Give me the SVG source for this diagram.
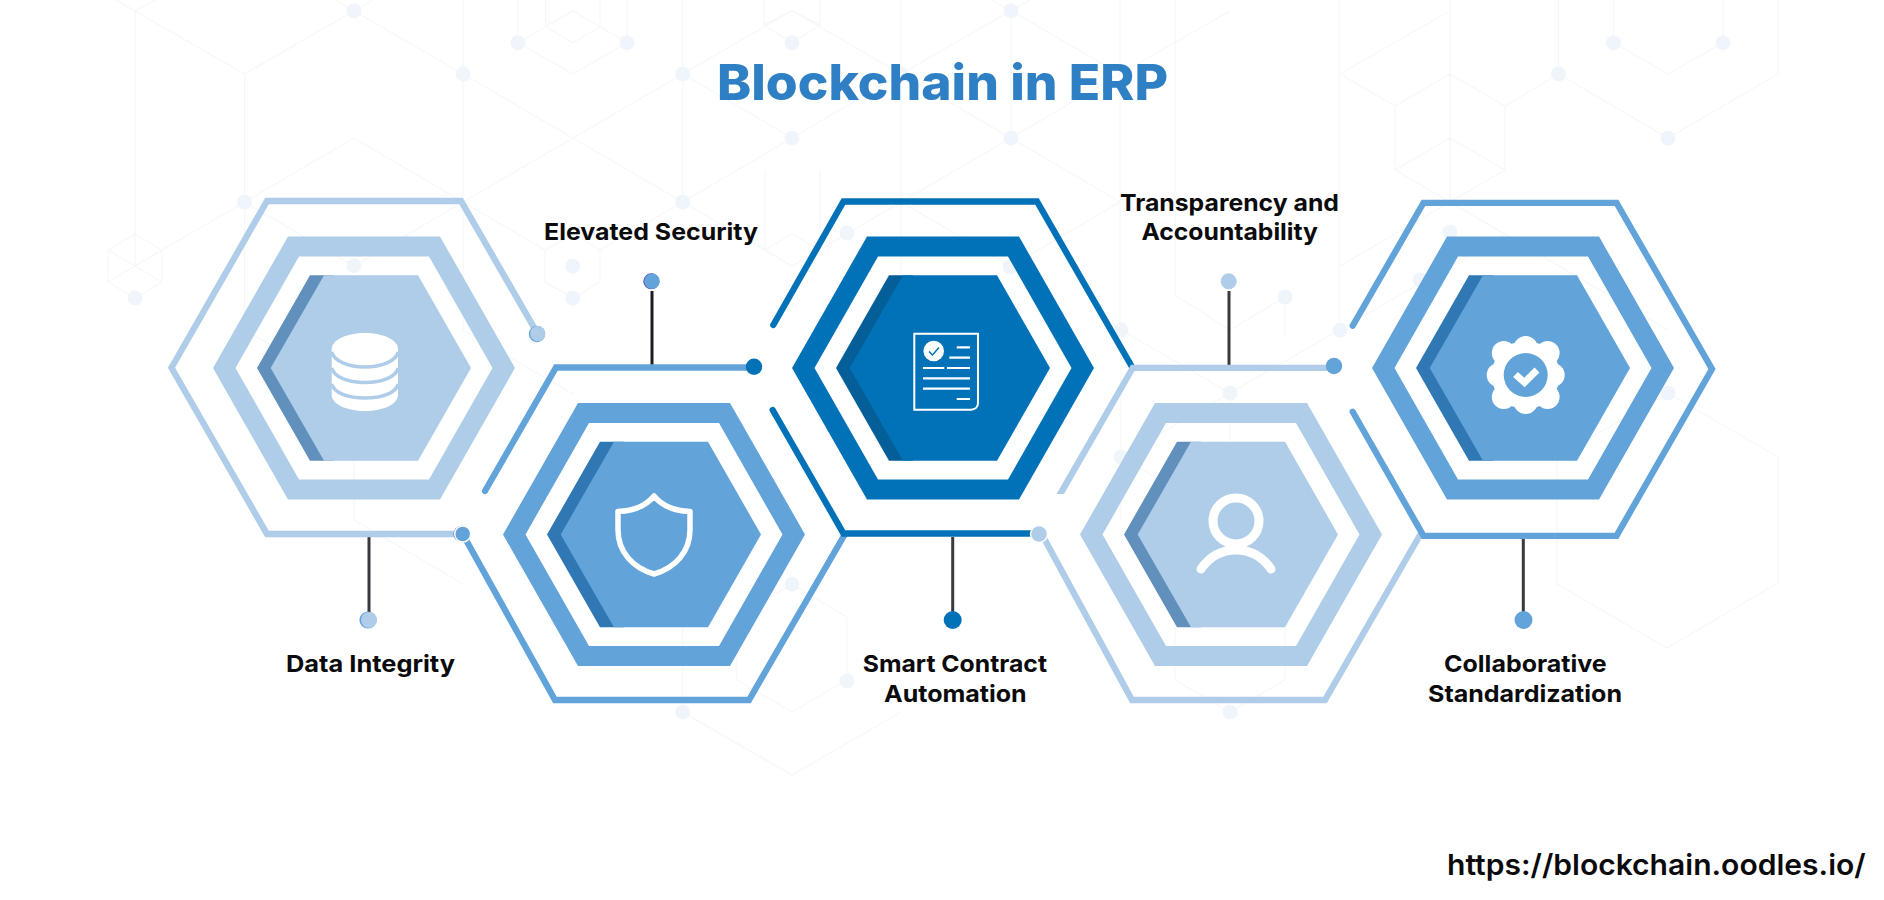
<svg xmlns="http://www.w3.org/2000/svg" width="1884" height="900" viewBox="0 0 1884 900">
  <style>
    .net { fill: none; stroke: #f5f7fb; stroke-width: 1.3; }
    .net-dot { fill: #f0f4fb; }
    .trace { fill: none; stroke-width: 6.3; stroke-linejoin: miter; stroke-linecap: round; stroke: var(--tone); }
    .stem { fill: none; stroke: #3a3a3e; stroke-width: 3; }
    .ring { fill-rule: evenodd; }
    .label { font-family: Inter, "Liberation Sans", sans-serif; font-weight: 700; font-size: 23.5px; fill: #0b0b0d; text-anchor: start; }
    .title { font-family: Inter, "Liberation Sans", sans-serif; font-weight: 800; font-size: 49px; fill: #2e7fc4; }
    .url { font-family: Inter, "Liberation Sans", sans-serif; font-weight: 600; font-size: 29px; fill: #0b0b0d; }
    .pale { --tone: #afcce9; --shade: #6190bc; }
    .mid { --tone: #62a3da; --shade: #2f78b4; }
    .deep { --tone: #0272b8; --shade: #045f98; }
    .fill { fill: var(--tone); }
    .shade { fill: var(--shade); }
    .halo { stroke: #ffffff; stroke-width: 1.5; }
  </style>
  <defs>
    <!-- concentric hexagons shared by all five cells, centred on the origin -->
    <g id="cell">
      <path class="fill ring" d="M-151 0L-76 -131.500H76L151 0L76 131.500H-76Z M-128.500 0L-65 111.500H65L128.500 0L65 -111.500H-65Z"/>
      <path class="shade" d="M-107 0L-54 -92.800H-30L-80 0L-30 92.800H-54Z"/>
      <path class="fill" d="M-93.300 0L-40 -92.800H54L107 0L54 92.800H-40Z"/>
    </g>
  </defs>

  <rect width="1884" height="900" fill="#ffffff"/>

  <!-- faint circuit network behind everything -->
  <g id="backdrop">
    <path class="net" d="M116 0L135 11V266M155 0L135 11L244.600 74L354 11L463 74L573 138L682.600 74M335 0L354 11L373 0
      M244.600 74V330M463 0V330M354 138L244.600 202M354 138L463 202M573 138L682.600 202M573 138L463 202M682.600 0V202
      M244.600 202L354 266L463 202M244.600 330L354 393M463 330L573 394M354 460V520L463 584
      M135 234L162 250V282L135 298L108 282V250ZM108 250L135 266L162 282M162 250L135 266L108 282M162 250L244.600 202
      M573 234L600 250V282L573 298L545 282V250ZM600 250L682.600 202M545 250L463 202
      M545.500 0V26.700L573 11L600 26.700V0M545.500 26.700L573 42.700L600 26.700M518 0V42.700L573 74L627 42.700V0M518 42.700L545.500 26.700M627 42.700L600 26.700
      M682.600 74L792 10.700L901 74L792 138L682.600 74M764 0V25L792 10.700L820 25V0M764 25L792 42.700L820 25M792 138L682.600 202
      M901 0V400M901 74L1011 138L1120 74M1011 10.700V138M1011 10.700L1120 74L1230 11M901 74L1011 10.700M992 0L1011 10.700L1030 0M1120 0V330
      M1011 138L1120 202M1011 138L901 202M682.600 202L792 266L901 202M765 250L792 234L820 250L792 266L765 250M765 170V250M820 170V250
      M901 202L1011 266L1120 202M1121 330L1230 393L1339 330M1230 393V500M1175 0V295L1230 330L1285 297M1121 330V460M1339 0V330
      M1340 74L1395 106L1450 74L1505 106L1558.500 74L1668 138L1778 74V0M1558.500 0V74M1395 106V170L1450 202L1505 170V106M1395 170L1450 138L1505 170M1450 0V202M1450 10.700L1340 74
      M1613.500 0V42.700L1668 74L1723 42.700V0M1450 202L1340 266M1450 202L1668 330M1339 330L1450 266L1505 234M1668 393L1778 457V584M1668 393L1557 457V584M1557 584L1667 648L1776 584
      M1121 457L1230 393M1121 457L1230 521M682.600 530V712L792 775L901 712M792 584L846.700 617V680L792 712L737 680V617ZM1175 627V680L1230 712L1285 680V627M1121 457V520
      M1285 297V335"/>
    <g class="net-dot">
      <circle cx="354" cy="10.700" r="7.500"/><circle cx="463" cy="74" r="7.500"/><circle cx="518" cy="42.700" r="7.500"/><circle cx="627" cy="42.700" r="7.500"/>
      <circle cx="682.600" cy="74" r="7.500"/><circle cx="792" cy="42.700" r="7.500"/><circle cx="792" cy="138" r="7.500"/><circle cx="1011" cy="10.700" r="7.500"/>
      <circle cx="1011" cy="138" r="7.500"/><circle cx="901" cy="74" r="7.500"/><circle cx="244.600" cy="202" r="7.500"/><circle cx="682.600" cy="202" r="7.500"/>
      <circle cx="354" cy="265.700" r="7.500"/><circle cx="135" cy="298" r="7.500"/><circle cx="572.800" cy="266" r="7.500"/><circle cx="572.800" cy="298" r="7.500"/>
      <circle cx="1613.500" cy="42.700" r="7.500"/><circle cx="1723" cy="42.700" r="7.500"/><circle cx="1558.500" cy="74" r="7.500"/><circle cx="1668" cy="138" r="7.500"/>
      <circle cx="1450" cy="232" r="7.500"/><circle cx="1420" cy="280" r="7.500"/><circle cx="1285" cy="297" r="7.500"/><circle cx="1340" cy="330" r="7.500"/>
      <circle cx="1121" cy="330" r="7.500"/><circle cx="1121" cy="457" r="7.500"/><circle cx="1230" cy="393" r="7.500"/><circle cx="1668" cy="393" r="7.500"/>
      <circle cx="847" cy="233" r="7.500"/><circle cx="1010" cy="267" r="7.500"/><circle cx="792" cy="584" r="7.500"/><circle cx="847" cy="681" r="7.500"/>
      <circle cx="682.600" cy="712" r="7.500"/><circle cx="1230" cy="712" r="7.500"/>
    </g>
  </g>

  <text class="title" x="717" y="99.500" textLength="451" lengthAdjust="spacingAndGlyphs">Blockchain in ERP</text>

  <!-- stems joining the cells to their captions -->
  <g id="connectors">
    <path class="stem" d="M369 537V612"/>
    <path class="stem" style="stroke:#1c1c22" d="M652 291V365"/>
    <path class="stem" d="M952.700 537V612"/>
    <path class="stem" d="M1229 291V365"/>
    <path class="stem" d="M1523.300 539V612"/>
  </g>

  <g id="node-data-integrity" class="pale">
    <path class="trace" d="M537.600 333.700L461 201H267L171.500 367.700L267 534H462"/>
    <use href="#cell" x="364" y="368"/>
    <!-- stacked disks -->
    <path fill="#ffffff" d="M331.700 349C331.700 340 346.500 333 365 333S398 340 398 349V395C398 404 383.500 411 365 411S331.700 404 331.700 395Z"/>
    <path fill="none" stroke="#afcce9" stroke-width="3.500" d="M331.700 352C334 361 348 367 365 367S396 361 398.300 352M331.700 368C334 377 348 382.500 365 382.500S396 377 398.300 368M331.700 384C334 393 348 398 365 398S396 393 398.300 384"/>
    <text class="label" x="286" y="672" textLength="169" lengthAdjust="spacingAndGlyphs">Data Integrity</text>
    <circle cx="537" cy="334" r="8.200" fill="#62a3da"/>
    <circle class="fill" cx="537.700" cy="333.700" r="7.600"/>
    <circle cx="368" cy="620" r="8.600" fill="#62a3da"/>
    <circle class="fill" cx="369" cy="620" r="8"/>
  </g>

  <g id="node-elevated-security" class="mid">
    <path class="trace" d="M485 491L556 367.500H754M462.700 534L555 700H749L845 534"/>
    <use href="#cell" x="654" y="534.500"/>
    <path fill="none" stroke="#ffffff" stroke-width="5.500" stroke-linejoin="round" d="M654 496C645 507 632 511 618 511.500V530C618 552 633 568 654 574C675 568 690 552 690 530V511.500C676 511 663 507 654 496Z"/>
    <text class="label" x="544" y="240" textLength="214" lengthAdjust="spacingAndGlyphs">Elevated Security</text>
    <circle cx="461.800" cy="534" r="8.300" fill="#4a4fa6"/>
    <circle class="fill halo" cx="462.700" cy="534" r="8"/>
    <circle cx="651.300" cy="281.300" r="8" fill="#4a4fa6"/>
    <circle class="fill" cx="652" cy="281.300" r="7.800"/>
  </g>

  <g id="node-smart-contract" class="deep">
    <path class="trace" d="M773.300 325L843.500 201.500H1037L1131.500 366M772.700 410L843.500 533.500H1039"/>
    <use href="#cell" x="943" y="368"/>
    <!-- contract sheet -->
    <path fill="none" stroke="#ffffff" stroke-width="2" d="M914.300 333.700H978V403C978 407 975 409.700 971 409.700H914.300Z"/>
    <circle cx="933.700" cy="351" r="10.300" fill="#ffffff"/>
    <path fill="none" stroke="#0272b8" stroke-width="1.500" d="M929 351.500L932.500 355L939 347.500"/>
    <path fill="none" stroke="#ffffff" stroke-width="2.200" d="M956.700 347.300H970M949.300 357.700H970M923 368H944.300M947 368H970M923 378.300H970M923 388.700H970M956.700 399H970"/>
    <text class="label" x="862.700" y="672" textLength="184.300" lengthAdjust="spacingAndGlyphs">Smart Contract</text>
    <text class="label" x="884" y="702" textLength="142.700" lengthAdjust="spacingAndGlyphs">Automation</text>
    <circle class="fill" cx="754" cy="366.700" r="8.200"/>
    <circle class="fill" cx="952.700" cy="620" r="9"/>
  </g>

  <g id="node-transparency" class="pale">
    <polygon class="fill" points="1056.500,494 1064,494 1134.500,371 1334,371 1334,364.700 1131,364.700"/>
    <path class="trace" d="M1041.700 534L1132 700H1325L1420 535"/>
    <use href="#cell" x="1231" y="534.500"/>
    <circle cx="1236" cy="521" r="23" fill="none" stroke="#ffffff" stroke-width="9"/>
    <path fill="none" stroke="#ffffff" stroke-width="9" stroke-linecap="round" d="M1201 569C1210 556 1222 550 1236 550C1250 550 1262 556 1271 569"/>
    <text class="label" x="1120" y="210.500" textLength="219" lengthAdjust="spacingAndGlyphs">Transparency and</text>
    <text class="label" x="1141.400" y="240" textLength="176.600" lengthAdjust="spacingAndGlyphs">Accountability</text>
    <circle class="fill halo" cx="1039" cy="534" r="8.500"/>
    <circle class="fill" cx="1228.700" cy="281.300" r="8"/>
  </g>

  <g id="node-collaborative" class="mid">
    <path class="trace" d="M1352.700 325.700L1423.500 202.800H1616.500L1712 369L1616.500 535.800H1423.500L1352.700 411.700"/>
    <use href="#cell" x="1523" y="368"/>
    <!-- rosette badge -->
    <g fill="#ffffff">
      <circle cx="1525.700" cy="375" r="34"/>
      <circle cx="1525.700" cy="348" r="12"/><circle cx="1525.700" cy="402" r="12"/><circle cx="1498.700" cy="375" r="12"/><circle cx="1552.700" cy="375" r="12"/>
      <circle cx="1547.600" cy="353.100" r="12"/><circle cx="1503.800" cy="353.100" r="12"/><circle cx="1547.600" cy="396.900" r="12"/><circle cx="1503.800" cy="396.900" r="12"/>
    </g>
    <circle class="fill" cx="1525.700" cy="375" r="22"/>
    <path fill="none" stroke="#ffffff" stroke-width="7" d="M1515.500 374.500L1524.500 382.500L1537 370"/>
    <text class="label" x="1444" y="672" textLength="162.700" lengthAdjust="spacingAndGlyphs">Collaborative</text>
    <text class="label" x="1428" y="702" textLength="194" lengthAdjust="spacingAndGlyphs">Standardization</text>
    <circle class="fill" cx="1334" cy="366" r="8.200"/>
    <circle class="fill" cx="1523.500" cy="620" r="9"/>
  </g>

  <text class="url" x="1447" y="875" textLength="418.700" lengthAdjust="spacingAndGlyphs">https://blockchain.oodles.io/</text>
</svg>
